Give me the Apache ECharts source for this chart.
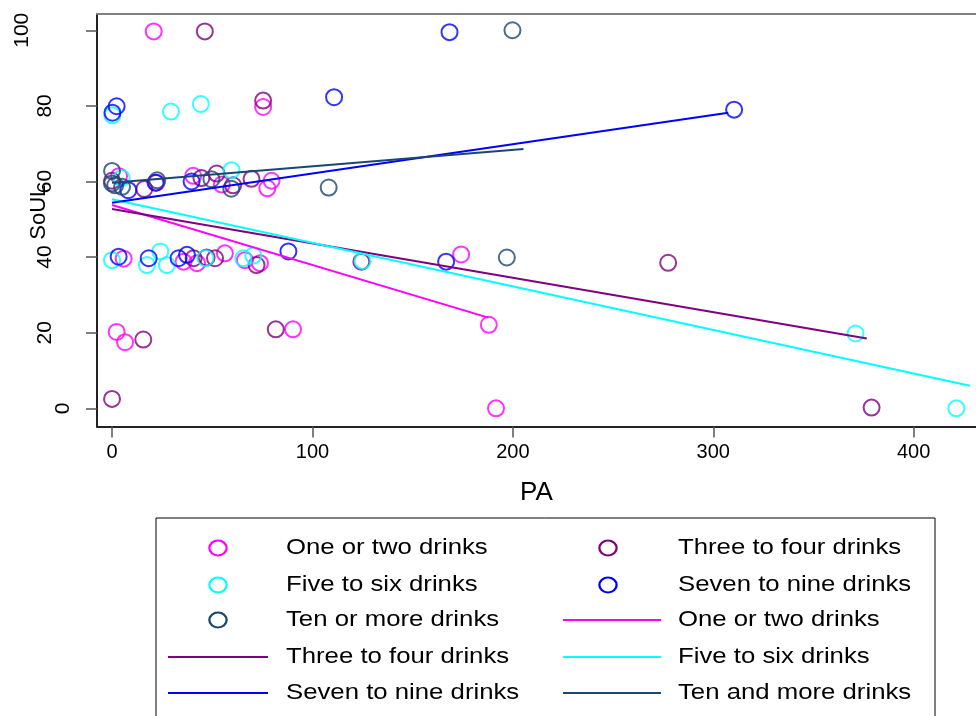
<!DOCTYPE html>
<html>
<head>
<meta charset="utf-8">
<script src="https://cdn.jsdelivr.net/npm/echarts@6/dist/echarts.min.js"></script>
<style>
  html, body { margin: 0; padding: 0; background: #ffffff; }
  #chart { width: 976px; height: 716px; }
</style>
</head>
<body>
<div id="chart"></div>
<script>
// Axis ticks
const xTicks = [0, 100, 200, 300, 400];
const yTicks = [0, 20, 40, 60, 80, 100];

// Group names and colours
const groupNames = ['One or two drinks', 'Three to four drinks', 'Five to six drinks', 'Seven to nine drinks', 'Ten or more drinks'];
const fitNames = ['One or two drinks', 'Three to four drinks', 'Five to six drinks', 'Seven to nine drinks', 'Ten and more drinks'];
const groupColors = ['#FF00FF', '#800080', '#00FFFF', '#0000FF', '#1A476F'];

// Observations: [PA, SoUL]
const oneTwo = [[20.8, 99.7], [75.4, 79.7], [3.5, 61.4], [22.2, 59.7], [40.5, 61.5], [54.8, 59.2], [79.6, 60.2], [77.5, 58.2],
  [5.8, 39.6], [35.7, 38.8], [42.4, 38.4], [56.3, 41.0], [66.3, 39.2], [73.8, 38.4], [174.2, 40.7],
  [2.3, 20.2], [6.5, 17.5], [90.3, 20.9], [188.0, 22.1], [191.6, 0.0]];
const threeFour = [[46.3, 99.7], [75.4, 81.4], [0.0, 60.2], [16.1, 58.0], [44.6, 60.9], [52.2, 62.1], [60.4, 59.0], [69.6, 60.7],
  [40.7, 39.7], [47.2, 39.9], [51.4, 39.7], [72.1, 37.9], [124.4, 38.8], [277.5, 38.5],
  [15.6, 18.2], [81.7, 20.9], [0.0, 2.5], [379.0, 0.2]];
const fiveSix = [[0.2, 77.5], [29.4, 78.5], [44.3, 80.5], [4.8, 60.9], [59.6, 63.0],
  [0.0, 39.2], [17.4, 37.9], [24.1, 41.5], [27.4, 37.9], [46.6, 39.7], [65.5, 39.7], [70.5, 40.4], [125.0, 39.0],
  [371.0, 19.8], [421.3, 0.0]];
const sevenNine = [[168.4, 99.5], [110.8, 82.3], [2.3, 79.9], [0.2, 78.2], [310.4, 79.0],
  [8.1, 57.7], [21.7, 59.7], [39.7, 60.0],
  [3.3, 40.1], [18.3, 39.7], [33.2, 39.7], [37.4, 40.6], [88.0, 41.5], [166.7, 38.8]];
const tenMore = [[199.8, 100.0], [0.0, 62.8], [0.0, 59.5], [1.6, 59.0], [5.0, 58.6], [22.5, 60.3], [49.6, 60.6],
  [59.5, 58.1], [108.1, 58.4], [197.0, 39.9]];

// Linear fit end points per group
const fitOneTwo = [[0, 53.8], [187.8, 24.0]];
const fitThreeFour = [[0, 52.7], [376.6, 18.5]];
const fitFiveSix = [[0, 55.3], [428.1, 6.0]];
const fitSevenNine = [[0, 54.4], [307.5, 78.2]];
const fitTenMore = [[0, 59.7], [205.3, 68.6]];

const groupData = [oneTwo, threeFour, fiveSix, sevenNine, tenMore];
const fitData = [fitOneTwo, fitThreeFour, fitFiveSix, fitSevenNine, fitTenMore];

const FONT = '"Liberation Sans", Arial, Helvetica, sans-serif';
const X_MIN = -7.5, X_MAX = 431.1;
const Y_MIN = -4.8, Y_MAX = 104.3;

const chart = echarts.init(document.getElementById('chart'), null, { renderer: 'canvas' });

const scatterSeries = groupData.map((d, i) => ({
  type: 'scatter',
  name: groupNames[i],
  data: d,
  symbol: 'circle',
  symbolSize: 16,
  itemStyle: { color: 'rgba(0,0,0,0)', borderColor: groupColors[i], borderWidth: 2 },
  emphasis: { disabled: true },
  z: 2
}));

const fitSeries = fitData.map((d, i) => ({
  type: 'line',
  name: fitNames[i],
  data: d,
  symbol: 'none',
  lineStyle: { color: groupColors[i], width: 2 },
  emphasis: { disabled: true },
  z: 3
}));

// Y tick labels sit at different distances from the axis depending on their length
function yLabelAxis(values, margin, showLine) {
  return {
    type: 'value', position: 'left', min: Y_MIN, max: Y_MAX, gridIndex: 0,
    axisLine: { show: showLine, onZero: false, lineStyle: { color: '#222', width: 2 } },
    axisTick: { show: showLine, length: 11, customValues: yTicks, lineStyle: { color: '#555', width: 1.5 } },
    axisLabel: { show: true, customValues: values, rotate: 90, margin: margin, fontFamily: FONT, fontSize: 21, color: '#000' },
    splitLine: { show: false }
  };
}

const yAxes = [yLabelAxis([20, 40, 60, 80], 41, true), yLabelAxis([0], 23, false), yLabelAxis([100], 64, false)];
yAxes[0].name = 'SoUL';
yAxes[0].nameLocation = 'middle';
yAxes[0].nameRotate = 90;
yAxes[0].nameGap = 47;
yAxes[0].nameMoveOverlap = false;
yAxes[0].nameTextStyle = { fontFamily: FONT, fontSize: 22, color: '#000', padding: [0, 0, 0, 16] };

// Legend: two columns, markers first, then fit lines
const legendItems = groupNames.map((n, i) => ({ kind: 'marker', name: n, color: groupColors[i] }))
  .concat(fitNames.map((n, i) => ({ kind: 'line', name: n, color: groupColors[i] })));
const legendRows = [548, 585, 620, 657, 693];
const legendCols = [{ lineX1: 168, lineX2: 268, markX: 218, textX: 286 }, { lineX1: 563, lineX2: 661, markX: 608, textX: 678 }];
const legendChildren = [{
  type: 'rect', shape: { x: 156, y: 518, width: 779, height: 220 },
  style: { fill: 'none', stroke: '#000', lineWidth: 1 }
}];
legendItems.forEach((it, i) => {
  const col = legendCols[i % 2];
  const y = legendRows[Math.floor(i / 2)];
  if (it.kind === 'marker') {
    legendChildren.push({
      type: 'circle', x: col.markX, y: y, scaleX: 1.15,
      shape: { cx: 0, cy: 0, r: 7.5 },
      style: { fill: 'none', stroke: it.color, lineWidth: 2 }
    });
  } else {
    legendChildren.push({
      type: 'line', shape: { x1: col.lineX1, y1: y, x2: col.lineX2, y2: y },
      style: { stroke: it.color, lineWidth: 2 }
    });
  }
  legendChildren.push({
    type: 'text', x: col.textX, y: y, scaleX: 1.17,
    style: { text: it.name, x: 0, y: 0, fill: '#000', font: '22px ' + FONT, verticalAlign: 'middle', align: 'left' }
  });
});

const option = {
  animation: false,
  backgroundColor: '#ffffff',
  grid: { left: 97, right: 0, top: 14, bottom: 289.5, containLabel: false },
  xAxis: [{
    type: 'value', position: 'bottom', min: X_MIN, max: X_MAX,
    name: 'PA', nameLocation: 'middle', nameGap: 53, nameMoveOverlap: false,
    nameTextStyle: { fontFamily: FONT, fontSize: 26, color: '#000' },
    axisLine: { show: true, onZero: false, lineStyle: { color: '#222', width: 2 } },
    axisTick: { show: true, length: 11, customValues: xTicks, lineStyle: { color: '#555', width: 1.5 } },
    axisLabel: { show: true, customValues: xTicks, margin: 16, fontFamily: FONT, fontSize: 20, color: '#000' },
    splitLine: { show: false }
  }, {
    // plot region outline along the top
    type: 'value', position: 'top', min: X_MIN, max: X_MAX,
    axisLine: { show: true, onZero: false, lineStyle: { color: '#808080', width: 2 } },
    axisTick: { show: false }, axisLabel: { show: false }, splitLine: { show: false }
  }],
  yAxis: yAxes,
  series: scatterSeries.concat(fitSeries),
  graphic: [{ type: 'group', children: legendChildren }]
};

chart.setOption(option);
</script>
</body>
</html>
